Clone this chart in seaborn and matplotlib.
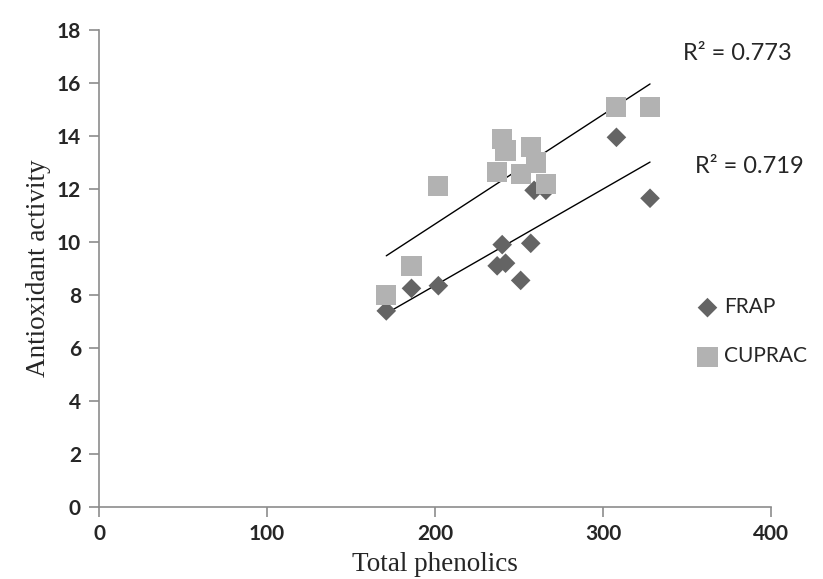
import matplotlib
matplotlib.use('Agg')
import matplotlib.pyplot as plt
import seaborn as sns
import pandas as pd

# Values
frap_x = [171, 186, 202, 240, 237, 242, 251, 257, 259, 266, 308, 328]
frap_y = [7.4, 8.25, 8.35, 9.9, 9.1, 9.2, 8.55, 9.95, 11.95, 11.95, 13.95, 11.65]

cuprac_x = [171, 186, 202, 240, 242, 237, 251, 257, 260, 266, 308, 328]
cuprac_y = [8.0, 9.1, 12.1, 13.9, 13.45, 12.65, 12.55, 13.6, 13.0, 12.2, 15.1, 15.1]

series = ['FRAP', 'CUPRAC']
r2_labels = ['R\u00b2 = 0.719', 'R\u00b2 = 0.773']

frap_color = '#646464'
cuprac_color = '#b2b2b2'

sns.set_style('white')

fig = plt.figure(figsize=(8.23, 5.79), dpi=100)
ax = fig.add_axes([0.1203, 0.1244, 0.8165, 0.8238])

frap = pd.DataFrame({'x': frap_x, 'y': frap_y})
cuprac = pd.DataFrame({'x': cuprac_x, 'y': cuprac_y})

# Trend lines
sns.regplot(data=frap, x='x', y='y', scatter=False, ci=None, ax=ax,
            line_kws={'color': 'black', 'lw': 1.0})
sns.regplot(data=cuprac, x='x', y='y', scatter=False, ci=None, ax=ax,
            line_kws={'color': 'black', 'lw': 1.0})

# Data points
sns.scatterplot(data=frap, x='x', y='y', marker='D', s=100, color=frap_color,
                edgecolor='none', label=series[0], ax=ax, zorder=3)
sns.scatterplot(data=cuprac, x='x', y='y', marker='s', s=210, color=cuprac_color,
                edgecolor='none', label=series[1], ax=ax, zorder=3)

ax.set_xlim(0, 400)
ax.set_ylim(0, 18)
ax.set_xticks([0, 100, 200, 300, 400])
ax.set_yticks(range(0, 19, 2))

for side in ['top', 'right']:
    ax.spines[side].set_visible(False)
for side in ['left', 'bottom']:
    ax.spines[side].set_color('#8c8c8c')
    ax.spines[side].set_linewidth(1.2)

ax.tick_params(axis='both', direction='out', length=7, width=1.2, color='#8c8c8c',
               labelsize=15, pad=6)
for lab in ax.get_xticklabels() + ax.get_yticklabels():
    lab.set_family('Lato')
    lab.set_fontweight('bold')
ax.tick_params(axis='x', bottom=True, pad=5)
ax.tick_params(axis='y', left=True)

ax.set_xlabel('Total phenolics', family='Liberation Serif', fontsize=19.5, labelpad=6)
ax.set_ylabel('Antioxidant activity', family='Liberation Serif', fontsize=19.5, labelpad=4)

# R squared annotations
ax.text(0.887, 0.700, r2_labels[0], transform=ax.transAxes, family='Lato',
        fontsize=17, va='baseline')
ax.text(0.869, 0.937, r2_labels[1], transform=ax.transAxes, family='Lato',
        fontsize=17, va='baseline')

leg = ax.legend(loc='upper left', bbox_to_anchor=(0.89, 0.44), frameon=False,
                prop={'family': 'Lato', 'size': 15}, handlelength=1.0,
                handletextpad=0.3, labelspacing=1.4, borderaxespad=0, borderpad=0)

fig.savefig('out.png', dpi=100)
